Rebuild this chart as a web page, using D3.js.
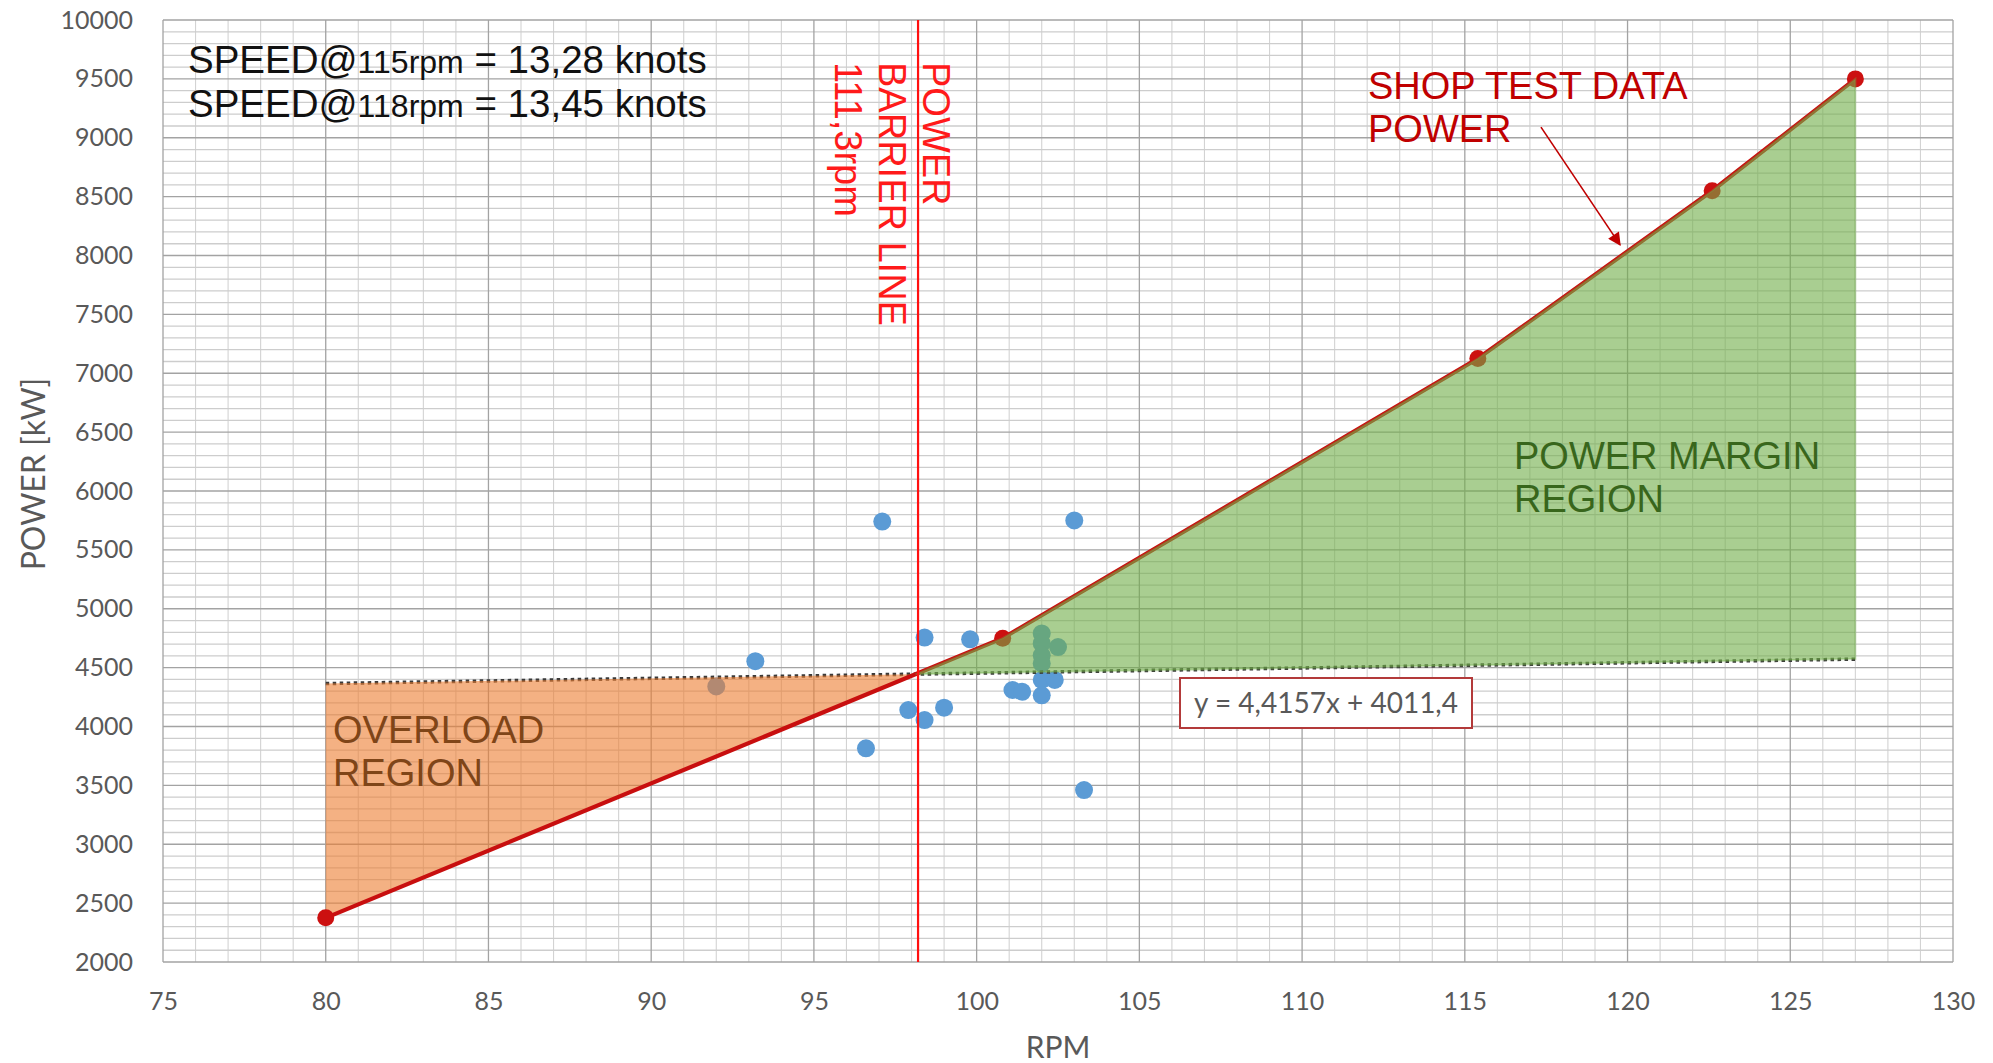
<!DOCTYPE html>
<html>
<head>
<meta charset="utf-8">
<script src="https://cdn.jsdelivr.net/npm/d3@7"></script>
<style>
  html, body { margin: 0; padding: 0; background: #ffffff; }
  svg { display: block; }
</style>
</head>
<body>
<script>
// Shop test curve of the main engine (rpm, kW)
const shopRpm   = [80.0, 100.8, 115.4, 122.6, 127.0];
const shopPower = [2375, 4750, 7125, 8550, 9500];

// Measured service points (rpm, kW)
const measRpm   = [97.1, 103.0, 93.2, 92.0, 98.4, 99.8, 102.0, 102.0, 102.5, 102.0, 102.0,
                   101.1, 101.4, 102.0, 102.4, 102.0, 97.9, 98.4, 99.0, 96.6, 103.3];
const measPower = [5740, 5750, 4555, 4340, 4755, 4740, 4790, 4705, 4675, 4605, 4535,
                   4310, 4295, 4395, 4395, 4265, 4140, 4055, 4160, 3815, 3460];

// Linear trend of the service points
const trendSlope = 4.4157;
const trendIntercept = 4011.4;
const trendRange = [80, 127];

// Power barrier
const barrierRpm = 98.2;

// Axis ticks
const rpmTicks   = [75, 80, 85, 90, 95, 100, 105, 110, 115, 120, 125, 130];
const powerTicks = [2000, 2500, 3000, 3500, 4000, 4500, 5000, 5500, 6000, 6500, 7000, 7500,
                    8000, 8500, 9000, 9500, 10000];

const W = 1993, H = 1063;
const svg = d3.select("body").append("svg").attr("width", W).attr("height", H);

const x = d3.scaleLinear().domain([75, 130]).range([163, 1953]);
const y = d3.scaleLinear().domain([2000, 10000]).range([962, 20]);

const shop = shopRpm.map((r, i) => [r, shopPower[i]]);
const meas = measRpm.map((r, i) => [r, measPower[i]]);
const trend = r => trendSlope * r + trendIntercept;

// ---- grid ----
const grid = svg.append("g");
const minorX = d3.range(75, 131, 1).filter(v => v % 5 !== 0);
const minorY = d3.range(2000, 10001, 100).filter(v => v % 500 !== 0);
grid.selectAll(".mx").data(minorX).join("line")
  .attr("x1", d => x(d)).attr("x2", d => x(d)).attr("y1", y(2000)).attr("y2", y(10000))
  .attr("stroke", "#d3d3d3").attr("stroke-width", 1.1);
grid.selectAll(".my").data(minorY).join("line")
  .attr("y1", d => y(d)).attr("y2", d => y(d)).attr("x1", x(75)).attr("x2", x(130))
  .attr("stroke", "#cdcdcd").attr("stroke-width", 1.3);
grid.selectAll(".Mx").data(rpmTicks).join("line")
  .attr("x1", d => x(d)).attr("x2", d => x(d)).attr("y1", y(2000)).attr("y2", y(10000))
  .attr("stroke", "#a3a3a3").attr("stroke-width", 1.3);
grid.selectAll(".My").data(powerTicks).join("line")
  .attr("y1", d => y(d)).attr("y2", d => y(d)).attr("x1", x(75)).attr("x2", x(130))
  .attr("stroke", "#a3a3a3").attr("stroke-width", 1.3);

// ---- axes ----
const axisFont = "Lato, 'Open Sans', sans-serif";
const xAxis = svg.append("g").attr("transform", `translate(0,${y(2000)})`)
  .call(d3.axisBottom(x).tickValues(rpmTicks).tickSize(0).tickPadding(30));
const yAxis = svg.append("g").attr("transform", `translate(${x(75)},0)`)
  .call(d3.axisLeft(y).tickValues(powerTicks).tickSize(0).tickPadding(30).tickFormat(d3.format("d")));
[xAxis, yAxis].forEach(a => {
  a.select(".domain").remove();
  a.selectAll("text").attr("font-family", axisFont).attr("font-size", 25).attr("fill", "#595959");
});

svg.append("text").text("RPM")
  .attr("x", (x(75) + x(130)) / 2).attr("y", 1058)
  .attr("text-anchor", "middle").attr("font-family", axisFont).attr("font-size", 30).attr("fill", "#595959");
svg.append("text").text("POWER [kW]")
  .attr("transform", "translate(45,474) rotate(-90)")
  .attr("text-anchor", "middle").attr("font-family", axisFont).attr("font-size", 32).attr("fill", "#595959");

// ---- measured points ----
svg.append("g").selectAll("circle").data(meas).join("circle")
  .attr("cx", d => x(d[0])).attr("cy", d => y(d[1])).attr("r", 9)
  .attr("fill", "#5b9bd5");

// ---- trend line ----
svg.append("line")
  .attr("x1", x(trendRange[0])).attr("y1", y(trend(trendRange[0])))
  .attr("x2", x(trendRange[1])).attr("y2", y(trend(trendRange[1])))
  .attr("stroke", "#3a3a3a").attr("stroke-width", 3.5)
  .attr("stroke-dasharray", "3.5 3.5");

// crossing of shop curve and trend line
let cross = null;
for (let i = 0; i < shop.length - 1 && !cross; i++) {
  const [r0, p0] = shop[i], [r1, p1] = shop[i + 1];
  const d0 = p0 - trend(r0), d1 = p1 - trend(r1);
  if (d0 <= 0 && d1 >= 0) {
    const t = d0 / (d0 - d1);
    const r = r0 + t * (r1 - r0);
    cross = [r, trend(r)];
  }
}

const poly = d3.line().x(d => x(d[0])).y(d => y(d[1]));

// ---- overload region (trend above shop curve) ----
const overPts = [[trendRange[0], trend(trendRange[0])], cross]
  .concat(shop.filter(d => d[0] < cross[0]).reverse());
svg.append("path").attr("d", poly(overPts) + "Z")
  .attr("fill", "#ed7d31").attr("fill-opacity", 0.6);

// ---- shop test curve ----
svg.append("path").datum(shop).attr("d", poly)
  .attr("fill", "none").attr("stroke", "#c80f0f").attr("stroke-width", 4.2);
svg.append("g").selectAll("circle").data(shop).join("circle")
  .attr("cx", d => x(d[0])).attr("cy", d => y(d[1])).attr("r", 8.5)
  .attr("fill", "#cc1010");

// ---- power margin region (shop curve above trend) ----
const marginPts = [cross].concat(shop.filter(d => d[0] > cross[0]))
  .concat([[trendRange[1], trend(trendRange[1])]]);
svg.append("path").attr("d", poly(marginPts) + "Z")
  .attr("fill", "#70ad47").attr("fill-opacity", 0.6)
  .attr("stroke", "#70ad47").attr("stroke-opacity", 0.35).attr("stroke-width", 2);

// ---- power barrier line ----
svg.append("line")
  .attr("x1", x(barrierRpm)).attr("x2", x(barrierRpm))
  .attr("y1", y(2000)).attr("y2", y(10000))
  .attr("stroke", "#ff1010").attr("stroke-width", 2.2);

const sans = "'Liberation Sans', Arial, sans-serif";
const barrierLines = ["POWER", "BARRIER LINE", "111,3rpm"];
barrierLines.forEach((t, i) => {
  svg.append("text").text(t)
    .attr("transform", `translate(${923 - i * 44},62) rotate(90)`)
    .attr("font-family", sans).attr("font-size", 38).attr("fill", "#ff1a1a");
});

// ---- speed notes ----
const speedNotes = [["115rpm", " = 13,28 knots"], ["118rpm", " = 13,45 knots"]];
speedNotes.forEach((n, i) => {
  const t = svg.append("text").attr("x", 188).attr("y", 73 + i * 44)
    .attr("font-family", sans).attr("font-size", 38.5).attr("fill", "#111111");
  t.append("tspan").text("SPEED@");
  t.append("tspan").attr("font-size", 32).text(n[0]);
  t.append("tspan").text(n[1]);
});

// ---- region labels ----
function block(lines, px, py, color) {
  lines.forEach((t, i) => {
    svg.append("text").text(t).attr("x", px).attr("y", py + i * 43)
      .attr("font-family", sans).attr("font-size", 38).attr("fill", color);
  });
}
block(["SHOP TEST DATA", "POWER"], 1368, 99, "#c00000");
block(["POWER MARGIN", "REGION"], 1514, 469, "#38661c");
block(["OVERLOAD", "REGION"], 333, 743, "#7f4518");

// ---- callout arrow towards the shop curve ----
const defs = svg.append("defs");
defs.append("marker").attr("id", "head").attr("viewBox", "0 0 10 10")
  .attr("refX", 9).attr("refY", 5)
  .attr("markerUnits", "userSpaceOnUse").attr("orient", "auto")
  .attr("markerWidth", 16).attr("markerHeight", 13)
  .append("path").attr("d", "M0,0 L10,5 L0,10 Z").attr("fill", "#c00000");
svg.append("line")
  .attr("x1", x(117.34)).attr("y1", y(9090))
  .attr("x2", x(119.77)).attr("y2", y(8090))
  .attr("stroke", "#c00000").attr("stroke-width", 1.6)
  .attr("marker-end", "url(#head)");

// ---- trend equation ----
const fmt = v => String(v).replace(".", ",");
const eq = svg.append("g").attr("transform", "translate(1326,703)");
eq.append("rect").attr("x", -146).attr("y", -25).attr("width", 292).attr("height", 50)
  .attr("fill", "#ffffff").attr("stroke", "#b33a3a").attr("stroke-width", 2);
eq.append("text").text(`y = ${fmt(trendSlope)}x + ${fmt(trendIntercept)}`)
  .attr("text-anchor", "middle").attr("dy", "0.35em")
  .attr("font-family", axisFont).attr("font-size", 28).attr("fill", "#595959");
</script>
</body>
</html>
